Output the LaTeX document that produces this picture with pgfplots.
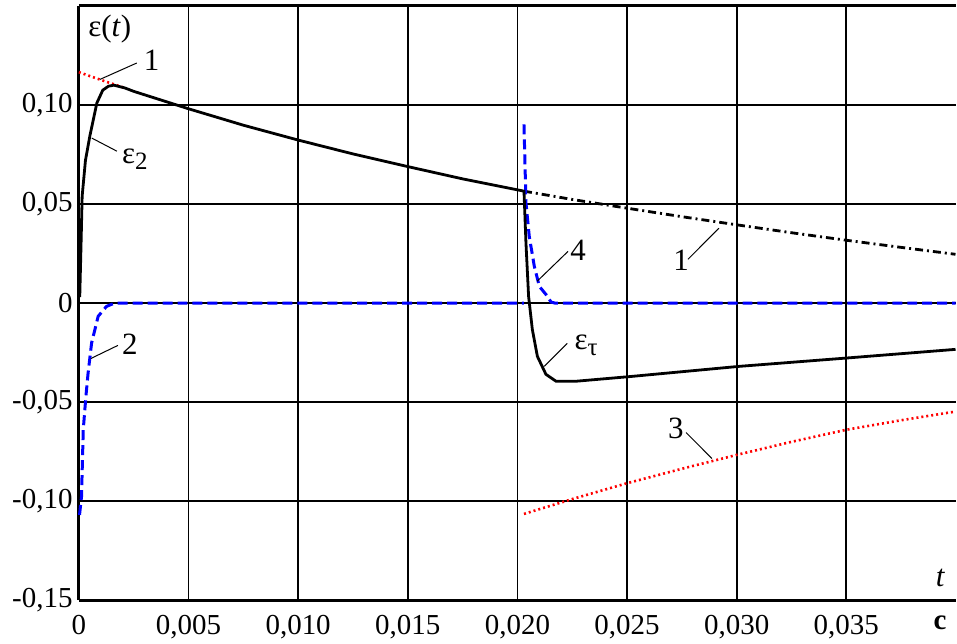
\documentclass[border=0pt]{standalone}
\usepackage{fontspec}
\setmainfont{Liberation Serif}
\usepackage{pgfplots}
\pgfplotsset{compat=1.18}

\definecolor{cblue}{RGB}{0,0,255}
\definecolor{cred}{RGB}{255,0,0}

\newcommand{\lbl}{\fontsize{15.5}{17}\selectfont}
\newcommand{\sub}[1]{\raisebox{-0.4ex}{\fontsize{12.5}{12.5}\selectfont #1}}

\begin{document}
\begin{tikzpicture}
\begin{axis}[
  name=ax,
  scale only axis,
  width=439pt, height=297.5pt,
  xmin=0, xmax=0.03998, ymin=-0.15, ymax=0.15,
  scaled x ticks=false, scaled y ticks=false,
  axis x line*=box, axis y line*=left,
  axis line style={line width=1.5pt, -},
  xtick={0,0.005,0.010,0.015,0.020,0.025,0.030,0.035},
  xticklabels={0,{0,005},{0,010},{0,015},{0,020},{0,025},{0,030},{0,035}},
  ytick={-0.15,-0.1,-0.05,0,0.05,0.1},
  yticklabels={{-0,15},{-0,10},{-0,05},0,{0,05},{0,10}},
  grid=major, major grid style={black, line width=0.9pt},
  major tick length=0pt,
  tick label style={font=\fontsize{14.5}{16}\selectfont},
  yticklabel style={inner sep=2pt, xshift=-1pt},
  xticklabel style={inner sep=2pt, yshift=-5.5pt},
  no markers,
  clip=false,
]
% curve 1, start (red dotted)
\addplot[cred, line width=1.3pt, dash pattern=on 1pt off 1.5pt] coordinates {
  (0,0.1166) (0.0005,0.1146) (0.001,0.1127) (0.0015,0.1108) (0.0021,0.1086)};
% curve 1 after the switch (dash-dot)
\addplot[black, line width=1.4pt, dash pattern=on 4pt off 2pt on 1pt off 2pt] coordinates {
  (0.0203,0.0565) (0.0225,0.0523) (0.025,0.0479) (0.0275,0.0436) (0.030,0.0395)
  (0.0325,0.0355) (0.035,0.0317) (0.0375,0.0281) (0.03998,0.0246)};
% curve 3 (red dotted)
\addplot[cred, line width=1.3pt, dash pattern=on 1pt off 1.5pt] coordinates {
  (0.0203,-0.1065) (0.0225,-0.0990) (0.025,-0.0910) (0.0275,-0.0837) (0.030,-0.0767)
  (0.0325,-0.0701) (0.035,-0.0640) (0.0375,-0.0592) (0.03998,-0.0548)};
% curve 2 (blue dashed)
\addplot[cblue, line width=1.5pt, dash pattern=on 5pt off 2.5pt] coordinates {
  (0.00003,-0.107) (0.00012,-0.0978) (0.0002,-0.0639) (0.00032,-0.0472) (0.00042,-0.0354)
  (0.00058,-0.0202) (0.00088,-0.0067) (0.00126,-0.0017) (0.00164,0) (0.0203,0)};
% curve 4 (blue dashed)
\addplot[cblue, line width=1.5pt, dash pattern=on 5pt off 2.5pt] coordinates {
  (0.0203,0.0902) (0.02039,0.0506) (0.02054,0.0337) (0.02077,0.0186) (0.021,0.0084)
  (0.02137,0.0034) (0.02153,0.0005) (0.0217,0) (0.03998,0)};
% epsilon (black solid)
\addplot[black, line width=1.4pt] coordinates {
  (0.00004,0.003) (0.0001,0.030) (0.00015,0.054) (0.0003,0.072) (0.0005,0.0843)
  (0.00082,0.101) (0.00109,0.1075) (0.00135,0.1095) (0.0016,0.1100) (0.0021,0.1086)
  (0.0025,0.1069) (0.005,0.0981) (0.0075,0.0898) (0.010,0.0823) (0.0125,0.0753)
  (0.015,0.0689) (0.0175,0.0627) (0.0203,0.0565)
  (0.02039,0.0303) (0.02051,0.0034) (0.02068,-0.0133) (0.02091,-0.0269) (0.0213,-0.0360)
  (0.02176,-0.0395) (0.02267,-0.0395) (0.02517,-0.0371) (0.0301,-0.0320) (0.0351,-0.0277)
  (0.03998,-0.0234)};

% leaders
\draw[line width=0.5pt] (0.00264,0.1212) -- (0.000956,0.1129);
\draw[line width=0.5pt] (0.00059,0.0833) -- (0.00173,0.0767);
\draw[line width=0.5pt] (0.00055,-0.0280) -- (0.00178,-0.0214);
\draw[line width=0.5pt] (0.0209,0.0110) -- (0.02231,0.0261);
\draw[line width=0.5pt] (0.02778,0.0221) -- (0.02919,0.0378);
\draw[line width=0.5pt] (0.02122,-0.0320) -- (0.02227,-0.0204);
\draw[line width=0.5pt] (0.02769,-0.0654) -- (0.02887,-0.0785);

% labels
\node[font=\lbl] at (0.00141,0.1384) {ε(\textit{t})};
\node[font=\lbl] at (0.00332,0.1227) {1};
\node[font=\lbl] at (0.00255,0.0727) {ε\sub{2}};
\node[font=\lbl] at (0.00232,-0.0209) {2};
\node[font=\lbl] at (0.02277,0.0266) {4};
\node[font=\lbl] at (0.02746,0.0216) {1};
\node[font=\lbl] at (0.02313,-0.0214) {ε\sub{τ}};
\node[font=\lbl] at (0.02723,-0.0634) {3};
\node[font=\lbl] at (0.0393,-0.139) {\textit{t}};
\node[font=\fontsize{14.5}{16}\selectfont\bfseries, anchor=north, inner sep=2pt, yshift=-5.5pt] at (0.03928,-0.15) {с};
\end{axis}
\path ([shift={(-39.5pt,-16.5pt)}]ax.south west) rectangle ([shift={(0pt,3pt)}]ax.north east);
\end{tikzpicture}
\end{document}
